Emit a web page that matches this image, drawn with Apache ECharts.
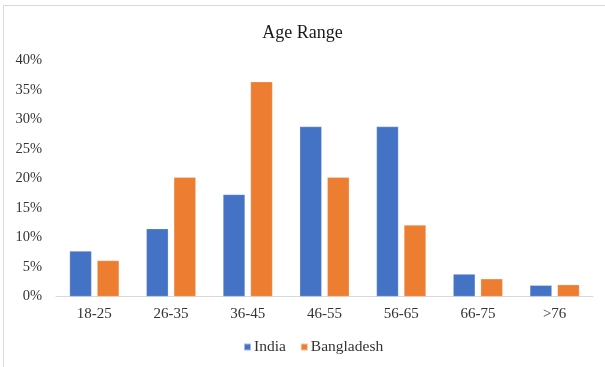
<!DOCTYPE html>
<html>
<head>
<meta charset="utf-8">
<style>
  html, body { margin: 0; padding: 0; background: #ffffff; }
  #chart { width: 605px; height: 367px; }
</style>
<script src="https://cdn.jsdelivr.net/npm/echarts@6/dist/echarts.min.js"></script>
</head>
<body>
<div id="chart"></div>
<script>
// Share of respondents by age band (percent)
const ageRanges = ['18-25', '26-35', '36-45', '46-55', '56-65', '66-75', '>76'];
const india = [7.7, 11.5, 17.3, 28.8, 28.8, 3.8, 1.9];
const bangladesh = [6.1, 20.2, 36.4, 20.2, 12.1, 3.0, 2.0];
const yTicks = { min: 0, max: 40, step: 5 };

const serif = '"Liberation Serif", "Times New Roman", serif';
const textColor = '#333333';

const chart = echarts.init(document.getElementById('chart'), null, { renderer: 'canvas' });

chart.setOption({
  animation: false,
  backgroundColor: '#ffffff',
  graphic: [{
    type: 'rect',
    silent: true,
    shape: { x: 3.5, y: 5.5, width: 800, height: 600 },
    style: { fill: 'none', stroke: '#d9d9d9', lineWidth: 1 }
  }],
  title: {
    text: 'Age Range',
    left: 'center',
    top: 19,
    textStyle: { fontFamily: serif, fontSize: 18, fontWeight: 'normal', color: '#1a1a1a' }
  },
  legend: {
    data: ['India', 'Bangladesh'],
    bottom: 7,
    left: 238,
    icon: 'rect',
    itemWidth: 7,
    itemHeight: 7,
    itemGap: 14,
    textStyle: { fontFamily: serif, fontSize: 15.5, color: textColor, padding: [0, 0, 0, -2] }
  },
  grid: { left: 56, right: 12, top: 60.5, bottom: 70.5, containLabel: false },
  xAxis: {
    type: 'category',
    data: ageRanges,
    axisLine: { lineStyle: { color: '#d9d9d9', width: 1 } },
    axisTick: { show: false },
    axisLabel: { fontFamily: serif, fontSize: 15, color: textColor, margin: 10 }
  },
  yAxis: {
    type: 'value',
    min: yTicks.min,
    max: yTicks.max,
    interval: yTicks.step,
    splitLine: { show: false },
    axisLine: { show: false },
    axisTick: { show: false },
    axisLabel: {
      fontFamily: serif, fontSize: 14.5, color: textColor, margin: 14,
      formatter: v => v + '%'
    }
  },
  series: [
    {
      name: 'India',
      type: 'bar',
      data: india,
      barWidth: '28.7%',
      barGap: '25%',
      itemStyle: { color: '#4472C4', borderColor: 'rgba(255,255,255,0.5)', borderWidth: 0.5 }
    },
    {
      name: 'Bangladesh',
      type: 'bar',
      data: bangladesh,
      barWidth: '28.7%',
      itemStyle: { color: '#ED7D31', borderColor: 'rgba(255,255,255,0.5)', borderWidth: 0.5 }
    }
  ]
});
</script>
</body>
</html>
